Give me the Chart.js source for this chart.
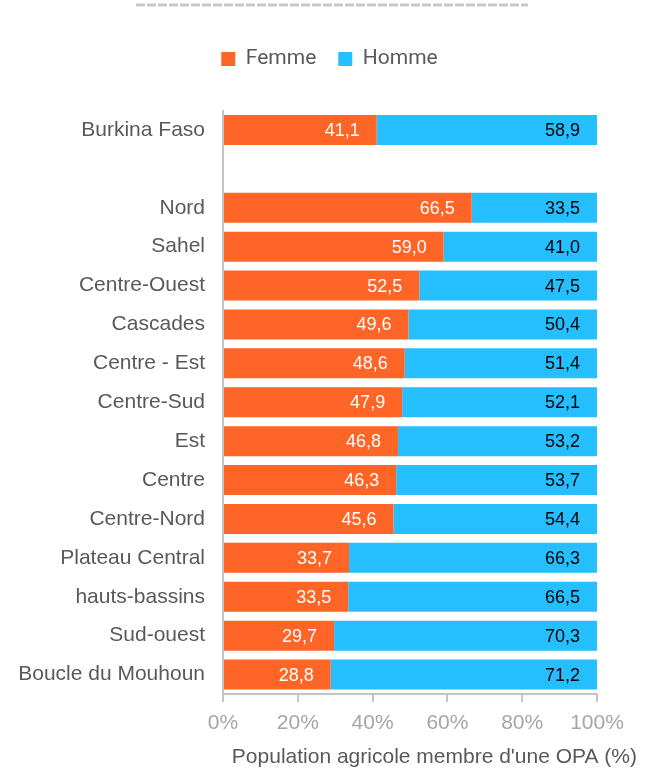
<!DOCTYPE html>
<html>
<head>
<meta charset="utf-8">
<script src="https://cdn.jsdelivr.net/npm/chart.js@4"></script>
<style>
  html, body { margin: 0; padding: 0; background: #fff; }
</style>
</head>
<body>
<canvas id="myChart" width="658" height="771"></canvas>
<script>
const regions = [
  "Burkina Faso", "", "Nord", "Sahel", "Centre-Ouest", "Cascades", "Centre - Est",
  "Centre-Sud", "Est", "Centre", "Centre-Nord", "Plateau Central", "hauts-bassins",
  "Sud-ouest", "Boucle du Mouhoun"
];
const femme = [41.1, null, 66.5, 59.0, 52.5, 49.6, 48.6, 47.9, 46.8, 46.3, 45.6, 33.7, 33.5, 29.7, 28.8];
const homme = [58.9, null, 33.5, 41.0, 47.5, 50.4, 51.4, 52.1, 53.2, 53.7, 54.4, 66.3, 66.5, 70.3, 71.2];
const xTicks = ["0%", "20%", "40%", "60%", "80%", "100%"];
const xTitle = "Population agricole membre d'une OPA (%)";

const orange = "#FF6526";
const blue = "#25BEFF";
const textGray = "#595959";
const fontFamily = "'Liberation Sans', Arial, sans-serif";

// dashed line at the very top, legend nudged right with more room under it, axis title
const decoPlugin = {
  id: "deco",
  beforeInit(chart) {
    const legend = chart.legend;
    const fit = legend.fit;
    legend.fit = function () {
      fit.call(this);
      this.height += 31;
    };
    const draw = legend.draw;
    legend.draw = function () {
      this.ctx.save();
      this.ctx.translate(31, 0);
      draw.call(this);
      this.ctx.restore();
    };
  },
  beforeDraw(chart) {
    const ctx = chart.ctx;
    ctx.save();
    ctx.strokeStyle = "#c8c8c8";
    ctx.lineWidth = 3;
    ctx.setLineDash([9, 2]);
    ctx.beginPath();
    ctx.moveTo(136, 5);
    ctx.lineTo(528, 5);
    ctx.stroke();
    ctx.restore();
  },
  afterDraw(chart) {
    const ctx = chart.ctx;
    const x = chart.scales.x;
    ctx.save();
    ctx.font = "21px " + fontFamily;
    ctx.fillStyle = textGray;
    ctx.textAlign = "right";
    ctx.textBaseline = "middle";
    ctx.fillText(xTitle, x.right + 40, 757);
    ctx.restore();
  },
};

// value labels inside the end of each bar
const labelPlugin = {
  id: "barLabels",
  afterDatasetsDraw(chart) {
    const ctx = chart.ctx;
    ctx.save();
    ctx.font = "18px " + fontFamily;
    ctx.textAlign = "right";
    ctx.textBaseline = "middle";
    chart.data.datasets.forEach((ds, i) => {
      const meta = chart.getDatasetMeta(i);
      meta.data.forEach((bar, j) => {
        const v = ds.data[j];
        if (v == null) return;
        ctx.fillStyle = i === 0 ? "#ffffff" : "#000000";
        ctx.fillText(v.toFixed(1).replace(".", ","), bar.x - 17, bar.y + 1);
      });
    });
    ctx.restore();
  },
};

const data = {
  labels: regions,
  datasets: [
    {
      label: "Femme",
      data: femme,
      backgroundColor: orange,
      barPercentage: 0.77,
      categoryPercentage: 1,
    },
    {
      label: "Homme",
      data: homme,
      backgroundColor: blue,
      barPercentage: 0.77,
      categoryPercentage: 1,
    },
  ],
};

const config = {
  type: "bar",
  data: data,
  plugins: [decoPlugin, labelPlugin],
  options: {
    indexAxis: "y",
    responsive: false,
    animation: false,
    devicePixelRatio: 1,
    layout: {
      padding: { top: 26.5, right: 61, bottom: 0, left: 0 },
    },
    scales: {
      x: {
        stacked: true,
        min: 0,
        max: 100,
        afterFit: (scale) => {
          scale.height = 77;
        },
        ticks: {
          stepSize: 20,
          padding: 9,
          color: "#a6a6a6",
          font: { family: fontFamily, size: 21 },
          callback: (v, i) => xTicks[i],
        },
        grid: {
          drawOnChartArea: false,
          drawTicks: true,
          tickLength: 8,
          color: "#c4c4c4",
          lineWidth: 2,
        },
        border: { color: "#c4c4c4", width: 2 },
      },
      y: {
        stacked: true,
        afterFit: (scale) => {
          scale.width = 223;
        },
        ticks: {
          padding: 18,
          color: textGray,
          font: { family: fontFamily, size: 21 },
          autoSkip: false,
        },
        grid: { display: false, drawTicks: false },
        border: { color: "#c4c4c4", width: 2 },
      },
    },
    plugins: {
      legend: {
        position: "top",
        labels: {
          boxWidth: 14,
          boxHeight: 14,
          padding: 22,
          color: textGray,
          font: { family: "Roboto", size: 21 },
        },
      },
      tooltip: { enabled: false },
    },
  },
};

const myChart = new Chart(document.getElementById("myChart"), config);
</script>
</body>
</html>
